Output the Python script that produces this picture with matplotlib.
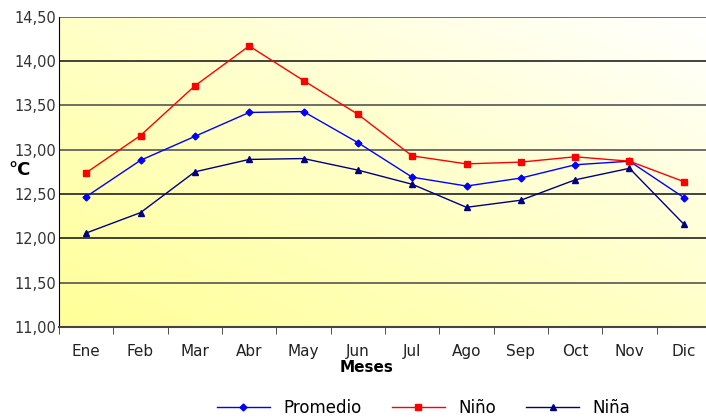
import matplotlib.pyplot as plt
import numpy as np
from matplotlib.colors import LinearSegmentedColormap

meses = ['Ene', 'Feb', 'Mar', 'Abr', 'May', 'Jun', 'Jul', 'Ago', 'Sep', 'Oct', 'Nov', 'Dic']
promedio = [12.47, 12.88, 13.15, 13.42, 13.43, 13.08, 12.69, 12.59, 12.68, 12.83, 12.87, 12.46]
nino = [12.74, 13.16, 13.72, 14.17, 13.78, 13.40, 12.93, 12.84, 12.86, 12.92, 12.87, 12.64]
nina = [12.06, 12.29, 12.75, 12.89, 12.90, 12.77, 12.61, 12.35, 12.43, 12.66, 12.79, 12.16]
yticks = [11.0, 11.5, 12.0, 12.5, 13.0, 13.5, 14.0, 14.5]

fs = 10.5
fig = plt.figure(figsize=(7.06, 4.19), dpi=100)
ax = fig.add_axes([59/706, (419-327)/419, (711-59)/706, (327-16.7)/419])

# fondo degradado amarillo -> blanco
xx, yy = np.meshgrid(np.linspace(0, 1, 100), np.linspace(0, 1, 100))
g = (xx + yy) / 2.0
cmap = LinearSegmentedColormap.from_list('bg', ['#FFFF99', '#FFFFC8', '#FFFFFF'])
ax.imshow(g, cmap=cmap, extent=[0, 1, 0, 1], transform=ax.transAxes,
          origin='lower', aspect='auto', zorder=0)

x = np.arange(len(meses))
for yv in yticks[1:]:
    ax.axhline(yv, color='#222222' if yv in (14.0, 12.5, 12.0) else '#555555', lw=1.2, zorder=1)

ax.plot(x, promedio, color='#0000FF', lw=1, marker='D', ms=3.5, label='Promedio', zorder=3)
ax.plot(x, nino, color='#FF0000', lw=1, marker='s', ms=5, label='Niño', zorder=3)
ax.plot(x, nina, color='#000080', lw=1, marker='^', ms=5, label='Niña', zorder=3)

ax.set_xlim(-0.5, 11.5)
ax.set_ylim(11.0, 14.5)
ax.set_xticks(x)
ax.set_xticklabels(meses, fontsize=fs + 0.5, color='#222222')
ax.set_xticks(np.arange(-0.5, 12, 1), minor=True)
ax.tick_params(axis='x', which='major', length=0, pad=12)
ax.tick_params(axis='x', which='minor', length=5, direction='out', color='#333333')
ax.set_yticks(yticks)
ax.set_yticklabels([('%.2f' % v).replace('.', ',') for v in yticks], fontsize=fs, color='#333333')
ax.tick_params(axis='y', length=0, pad=2)

for s in ['top', 'right']:
    ax.spines[s].set_visible(False)
ax.spines['left'].set_color('black')
ax.spines['bottom'].set_color('#444444')
ax.spines['bottom'].set_linewidth(1.5)

fig.text(20/706, 1 - 170/419, '°C', fontsize=13, fontweight='bold', ha='center', va='center')
fig.text(367/706, 1 - 367/419, 'Meses', fontsize=11, fontweight='bold', ha='center', va='center')

fig.legend(loc='center', bbox_to_anchor=(0.6, 1 - 408/419), ncol=3, frameon=False,
           fontsize=12, handlelength=3.2, columnspacing=1.8)

fig.savefig('out.png', dpi=100)
